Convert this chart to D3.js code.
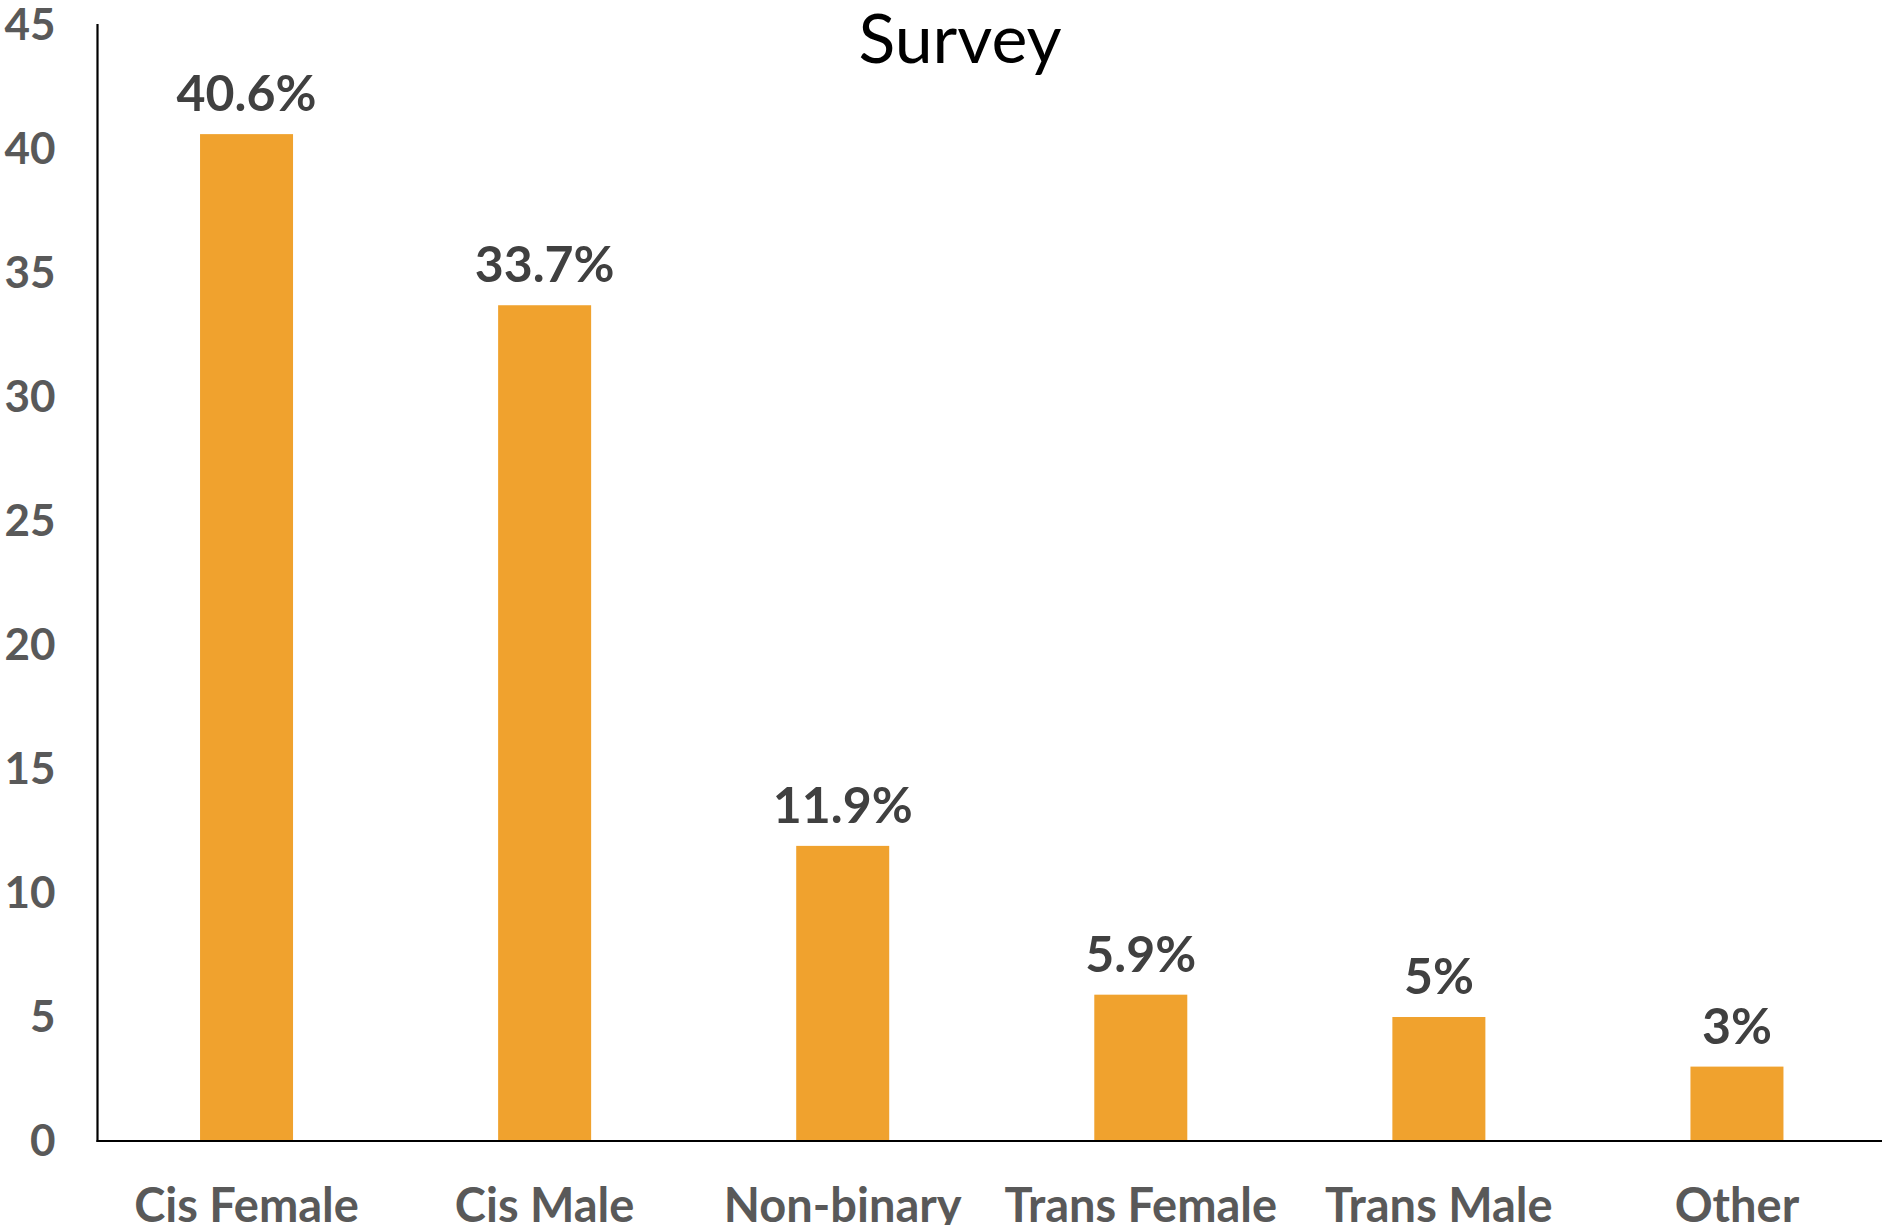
<!DOCTYPE html>
<html>
<head>
<meta charset="utf-8">
<script src="https://cdn.jsdelivr.net/npm/d3@7"></script>
<style>
  html, body { margin: 0; padding: 0; background: #ffffff; }
  svg { display: block; }
</style>
</head>
<body>
<svg id="chart" width="1882" height="1225"></svg>
<script>
// ---- data ----
const title = "Survey";
const categories = ["Cis Female", "Cis Male", "Non-binary", "Trans Female", "Trans Male", "Other"];
const values = [40.6, 33.7, 11.9, 5.9, 5, 3];
const valueLabels = ["40.6%", "33.7%", "11.9%", "5.9%", "5%", "3%"];
const yTicks = [0, 5, 10, 15, 20, 25, 30, 35, 40, 45];

// ---- layout ----
const W = 1882, H = 1225;
const plotLeft = 97.5, plotRight = 1886, plotTop = 25, plotBottom = 1141;
const barColor = "#F0A22E";

const svg = d3.select("#chart");

const x = d3.scaleBand()
  .domain(categories)
  .range([plotLeft, plotRight])
  .paddingInner(0.688)
  .paddingOuter(0.344);

const y = d3.scaleLinear().domain([0, 45]).range([plotBottom, plotTop]);

// bars
svg.append("g").selectAll("rect")
  .data(categories)
  .join("rect")
  .attr("x", d => x(d))
  .attr("width", x.bandwidth())
  .attr("y", (d, i) => y(values[i]))
  .attr("height", (d, i) => y(0) - y(values[i]))
  .attr("fill", barColor);

// y axis (labels only + line)
const yAxis = d3.axisLeft(y).tickValues(yTicks).tickSize(0).tickPadding(42).tickFormat(d3.format("d"));
const gy = svg.append("g").attr("transform", `translate(${plotLeft},0)`).call(yAxis);
gy.select(".domain").remove();
gy.selectAll("text")
  .attr("fill", "#595959")
  .style("font-family", "Lato, 'Open Sans', sans-serif")
  .style("font-weight", "700")
  .style("font-size", "44px");

svg.append("line")
  .attr("x1", plotLeft).attr("x2", plotLeft)
  .attr("y1", y(45) - 1).attr("y2", plotBottom + 1)
  .attr("stroke", "#000").attr("stroke-width", 2.2);

// x axis
const xAxis = d3.axisBottom(x).tickSize(0).tickPadding(48);
const gx = svg.append("g").attr("transform", `translate(0,${plotBottom})`).call(xAxis);
gx.select(".domain").remove();
gx.selectAll("text")
  .attr("fill", "#595959")
  .style("font-family", "Lato, 'Open Sans', sans-serif")
  .style("font-weight", "700")
  .style("font-size", "47px");

svg.append("line")
  .attr("x1", plotLeft - 1).attr("x2", W)
  .attr("y1", plotBottom).attr("y2", plotBottom)
  .attr("stroke", "#000").attr("stroke-width", 2.2);

// value labels
svg.append("g").selectAll("text")
  .data(categories)
  .join("text")
  .attr("x", d => x(d) + x.bandwidth() / 2)
  .attr("y", (d, i) => y(values[i]) - 23)
  .attr("text-anchor", "middle")
  .attr("fill", "#404040")
  .style("font-family", "Lato, 'Open Sans', sans-serif")
  .style("font-weight", "700")
  .style("font-size", "50px")
  .text((d, i) => valueLabels[i]);

// title
svg.append("text")
  .attr("x", 960)
  .attr("y", 63)
  .attr("text-anchor", "middle")
  .attr("fill", "#000")
  .style("font-family", "Lato, 'Open Sans', sans-serif")
  .style("font-weight", "400")
  .style("font-size", "68px")
  .text(title);
</script>
</body>
</html>
